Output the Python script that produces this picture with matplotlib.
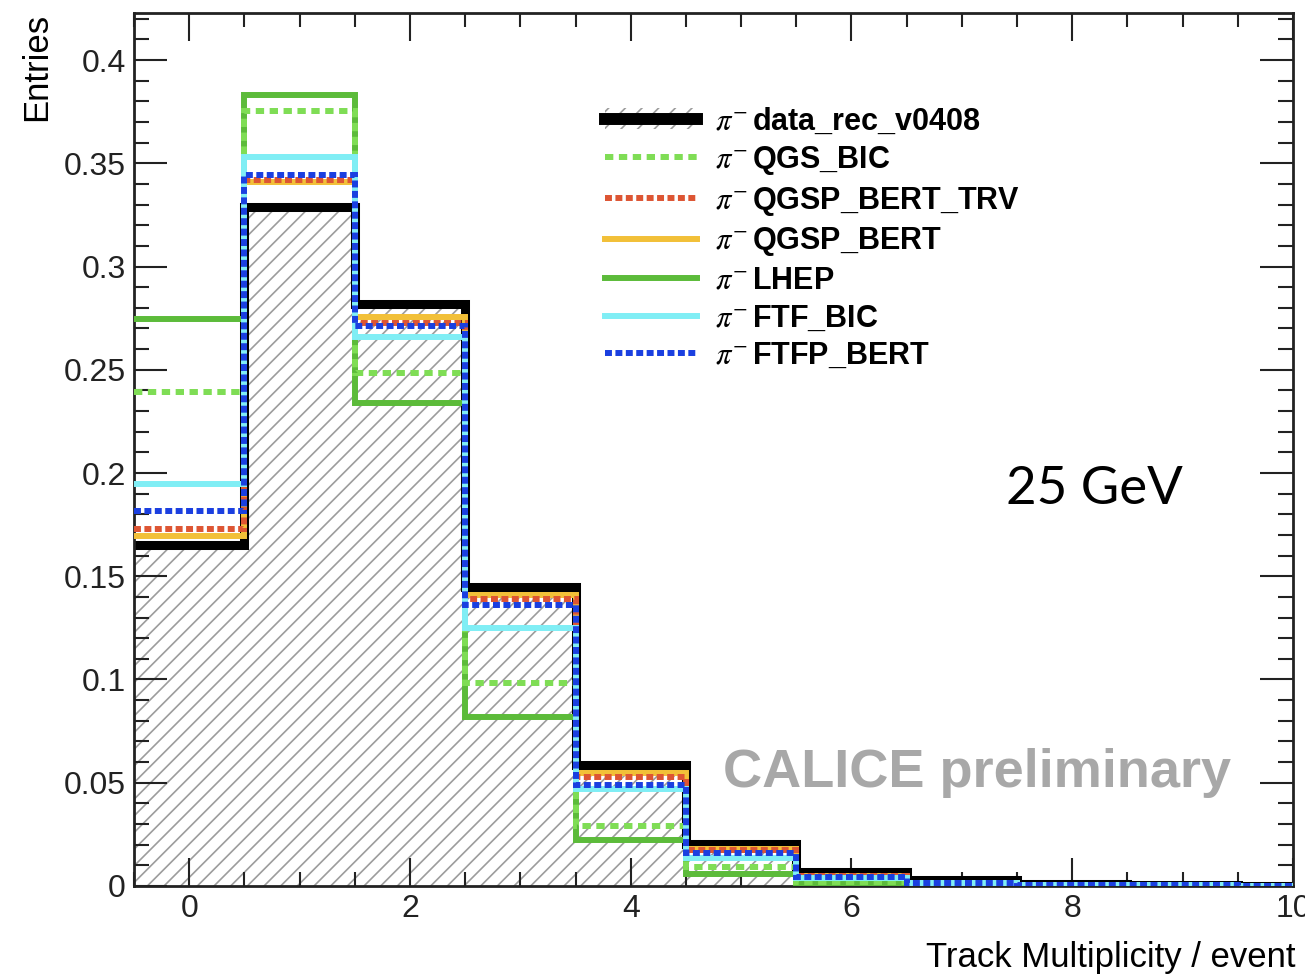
import numpy as np
import matplotlib
matplotlib.use('Agg')
import matplotlib.pyplot as plt
from matplotlib.ticker import MultipleLocator, FuncFormatter
from matplotlib.lines import Line2D
from matplotlib.patches import Patch
from matplotlib.legend_handler import HandlerTuple

plt.rcParams['font.family'] = ['Liberation Sans', 'DejaVu Sans']
plt.rcParams['mathtext.fontset'] = 'stix'
plt.rcParams['lines.scale_dashes'] = False
plt.rcParams['hatch.linewidth'] = 1.2

# bin edges of the track multiplicity histogram (bins centred on integers)
edges = np.arange(-0.5, 11.0, 1.0)

# normalised entries per bin
data_rec = [0.1652, 0.3286, 0.2818, 0.1450, 0.0584, 0.0202, 0.0068, 0.0028, 0.0010, 0.0005, 0.0002]
qgs_bic = [0.2390, 0.3755, 0.2486, 0.0985, 0.0290, 0.0090, 0.0020, 0.0007, 0.0003, 0.0001, 0.0001]
qgsp_bert_trv = [0.1727, 0.3420, 0.2726, 0.1390, 0.0528, 0.0175, 0.0050, 0.0015, 0.0006, 0.0003, 0.0001]
qgsp_bert = [0.1697, 0.3410, 0.2757, 0.1410, 0.0545, 0.0180, 0.0050, 0.0015, 0.0006, 0.0003, 0.0001]
lhep = [0.2747, 0.3830, 0.2339, 0.0820, 0.0225, 0.0060, 0.0012, 0.0004, 0.0001, 0.0001, 0.0000]
ftf_bic = [0.1946, 0.3532, 0.2660, 0.1250, 0.0470, 0.0135, 0.0040, 0.0015, 0.0006, 0.0003, 0.0001]
ftfp_bert = [0.1815, 0.3443, 0.2713, 0.1360, 0.0490, 0.0160, 0.0045, 0.0015, 0.0006, 0.0003, 0.0001]

labels = ['data_rec_v0408', 'QGS_BIC', 'QGSP_BERT_TRV', 'QGSP_BERT', 'LHEP', 'FTF_BIC', 'FTFP_BERT']

fig = plt.figure(figsize=(13.05, 9.75), dpi=100)
ax = fig.add_axes([0.1027, 0.0913, 0.9908 - 0.1027, 0.9867 - 0.0913])

# data: hatched fill + thick black outline
ax.fill_between(edges, np.r_[data_rec, data_rec[-1]], step='post', facecolor='none',
                edgecolor='#9c9c9c', hatch='//', linewidth=0, zorder=1)
ax.stairs(data_rec, edges, baseline=None, color='black', lw=6.5, zorder=2)

# simulations
ax.stairs(lhep, edges, baseline=None, color='#5cbb3a', lw=4.3, zorder=3)
ax.stairs(qgs_bic, edges, baseline=None, color='#7fdd55', lw=4.3, ls=(0, (6, 4)), zorder=3)
ax.stairs(qgsp_bert, edges, baseline=None, color='#f2c038', lw=4.3, zorder=3)
ax.stairs(qgsp_bert_trv, edges, baseline=None, color='#dd5533', lw=4.3, ls=(0, (5, 2.5)), zorder=3)
ax.stairs(ftf_bic, edges, baseline=None, color='#80eef5', lw=4.3, zorder=4)
ax.stairs(ftfp_bert, edges, baseline=None, color='#1a3fe0', lw=4.3, ls=(0, (5, 2.5)), zorder=5)

ax.set_xlim(-0.5, 10)
ax.set_ylim(0, 0.4228)

ax.xaxis.set_major_locator(MultipleLocator(2))
ax.xaxis.set_minor_locator(MultipleLocator(0.5))
ax.yaxis.set_major_locator(MultipleLocator(0.05))
ax.yaxis.set_minor_locator(MultipleLocator(0.01))
fmt = FuncFormatter(lambda v, p: '%g' % round(v, 3))
ax.xaxis.set_major_formatter(fmt)
ax.yaxis.set_major_formatter(fmt)
ax.tick_params(which='both', direction='in', top=True, right=True, width=1.5, colors='#222222')
ax.tick_params(axis='x', which='major', length=20, labelsize=23, pad=6)
ax.tick_params(axis='x', which='minor', length=10)
ax.tick_params(axis='y', which='major', length=24, labelsize=23, pad=6)
ax.tick_params(axis='y', which='minor', length=11)
for s in ax.spines.values():
    s.set_linewidth(2)
    s.set_color('#222222')

fig.text(37 / 1305, 1 - 13 / 975, 'Entries', rotation=90, ha='center', va='top', fontsize=25)
fig.text(1295 / 1305, 1 - 967 / 975, 'Track Multiplicity / event', ha='right', va='baseline', fontsize=25)

# legend
data_handle = (Patch(facecolor='none', edgecolor='#9c9c9c', hatch='//', lw=0),
               Line2D([], [], color='black', lw=8.6))
handles = [data_handle,
           Line2D([], [], color='#7fdd55', lw=4.3, ls=(0, (6, 4))),
           Line2D([], [], color='#dd5533', lw=4.3, ls=(0, (5, 2.5))),
           Line2D([], [], color='#f2c038', lw=4.3),
           Line2D([], [], color='#5cbb3a', lw=4.3),
           Line2D([], [], color='#80eef5', lw=4.3),
           Line2D([], [], color='#1a3fe0', lw=4.3, ls=(0, (5, 2.5)))]
leg = fig.legend(handles, [r'$\pi^{-}\,$' + l for l in labels],
                 loc='upper left', bbox_to_anchor=(605 / 1305, 1 - 106 / 975),
                 frameon=False, borderpad=0, borderaxespad=0,
                 handlelength=3.0, handletextpad=0.6, labelspacing=0.25,
                 prop={'family': 'Liberation Sans', 'weight': 'bold', 'size': 22},
                 handler_map={tuple: HandlerTuple(ndivide=1)})

fig.text(1094 / 1305, 1 - 490 / 975, '25 GeV', ha='center', va='center', fontsize=38, family='Lato')
fig.text(723 / 1305, 1 - 787 / 975, 'CALICE preliminary', ha='left', va='baseline',
         fontsize=39, weight='bold', color='#a8a8a8')

fig.savefig('out.png', dpi=100)
